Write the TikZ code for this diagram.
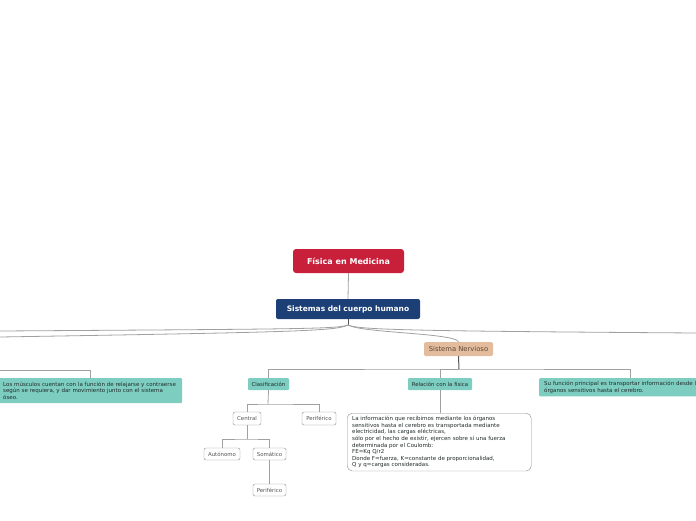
\documentclass[tikz,border=0pt]{standalone}
\usepackage{fontspec}
\setmainfont{DejaVu Sans}
\definecolor{MMRed}{HTML}{C8203A}
\definecolor{MMBlue}{HTML}{1C3F76}
\definecolor{MMTan}{HTML}{E2BC9C}
\definecolor{MMTeal}{HTML}{7DCEC1}
\definecolor{MMLine}{HTML}{A0A0A0}
\definecolor{MMEdge}{HTML}{8C8C8C}
\definecolor{MMDark}{HTML}{555555}
\definecolor{MMText}{HTML}{222B2A}
\definecolor{MMBrown}{HTML}{5E4838}

\begin{document}
\begin{tikzpicture}[x=1pt,y=-1pt,
  rootbox/.style={fill=MMRed,rounded corners=3pt,text=white,inner sep=0pt,
    font=\bfseries\fontsize{8}{10}\selectfont,minimum width=111pt,minimum height=24pt},
  mainbox/.style={fill=MMBlue,rounded corners=2pt,text=white,inner sep=0pt,
    font=\bfseries\fontsize{7.5}{9}\selectfont,minimum width=144pt,minimum height=20pt},
  topicbox/.style={fill=MMTan,rounded corners=1.5pt,text=MMBrown,inner sep=0pt,
    font=\fontsize{6.8}{8}\selectfont,minimum width=69pt,minimum height=14pt},
  tealbox/.style={fill=MMTeal,rounded corners=1pt,text=MMText,inner sep=0pt,
    font=\fontsize{5.4}{6.6}\selectfont,minimum height=12pt},
  notebox/.style={fill=MMTeal,rounded corners=1pt,text=MMText,anchor=north west,
    inner xsep=5pt,inner ysep=3pt,align=left,font=\fontsize{5.5}{6.6}\selectfont},
  leafbox/.style={draw=MMEdge,fill=white,rounded corners=2pt,text=MMDark,inner sep=0pt,
    font=\fontsize{5.4}{6.6}\selectfont,minimum height=12pt},
  infobox/.style={draw=MMEdge,fill=white,rounded corners=5pt,text=MMText,anchor=north west,
    inner xsep=5pt,inner ysep=3pt,align=left,font=\fontsize{5.5}{6.6}\selectfont},
  link/.style={draw=MMLine,line width=0.8pt},
  darklink/.style={draw=MMDark,line width=1pt}]
\path[use as bounding box] (0,0) rectangle (696,520);

% main branch
\node[rootbox] (fisica) at (348.5,261) {Física en Medicina};
\node[mainbox] (sistemas) at (348,309) {Sistemas del cuerpo humano};
\node[topicbox] (nervioso) at (458.5,349) {Sistema Nervioso};

% connectors leaving the frame
\coordinate (hub) at (348,325);
\coordinate (leftA) at (0,331);
\coordinate (leftB) at (0,337);
\coordinate (rightA) at (696,333);
\draw[link] (fisica.south) -- (sistemas.north);
\draw[darklink] (sistemas.south) -- (hub);
\draw[link] (hub) .. controls (338,329) and (300,329) .. (leftA);
\draw[link] (hub) .. controls (336,331) and (300,332) .. (leftB);
\draw[link] (hub) .. controls (358,330) and (420,331) .. (rightA);
\draw[link] (hub) .. controls (362,333) and (455,333) .. (nervioso.north);

% muscular note
\node[notebox,text width=174pt,minimum height=25pt] (musculos) at (-2,378)
  {Los músculos cuentan con la función de relajarse y contraerse\\según se requiera, y dar movimiento junto con el sistema\\óseo.};
\coordinate (mleft) at (0,370);
\draw[link] (mleft) -| (musculos.north);

% sistema nervioso children
\node[tealbox,minimum width=41pt] (clasif) at (268.5,384) {Clasificación};
\node[tealbox,minimum width=64pt] (relacion) at (440,384) {Relación con la física};
\node[notebox,text width=200pt,minimum height=18pt] (funcion) at (539,378)
  {Su función principal es transportar información desde los\\órganos sensitivos hasta el cerebro.};
\coordinate (nbus) at (459,369);
\coordinate (fdrop) at (630,378);
\draw[darklink] (nervioso.south) -- (nbus);
\draw[link] (clasif.north) |- (nbus) -| (fdrop);
\draw[link] (relacion.north) |- (nbus);

% clasificacion
\node[leafbox,minimum width=28pt,minimum height=13pt] (central) at (247,418.5) {Central};
\node[leafbox,minimum width=34pt,minimum height=13pt] (periferico) at (319,418.5) {Periférico};
\node[leafbox,minimum width=36pt] (autonomo) at (222,454) {Autónomo};
\node[leafbox,minimum width=33pt] (somatico) at (269.5,454) {Somático};
\node[leafbox,minimum width=33pt] (perisoma) at (269.5,490) {Periférico};
\coordinate (cbus) at (268,404);
\coordinate (cebus) at (247,439);
\draw[link] (clasif.south) -- (cbus);
\draw[link] (central.north) |- (cbus) -| (periferico.north);
\draw[link] (central.south) -- (cebus);
\draw[link] (autonomo.north) |- (cebus) -| (somatico.north);
\draw[link] (somatico.south) -- (perisoma.north);

% relacion con la fisica
\node[infobox,text width=174pt,minimum height=57pt] (info) at (347,413)
  {La información que recibimos mediante los órganos\\sensitivos hasta el cerebro es transportada mediante\\electricidad, las cargas eléctricas,\\sólo por el hecho de existir, ejercen sobre sí una fuerza\\determinada por el Coulomb:\\FE=Kq Q/r2\\Donde F=fuerza, K=constante de proporcionalidad,\\Q y q=cargas consideradas.};
\draw[link] (relacion.south) -- (relacion.south |- info.north);
\end{tikzpicture}
\end{document}
